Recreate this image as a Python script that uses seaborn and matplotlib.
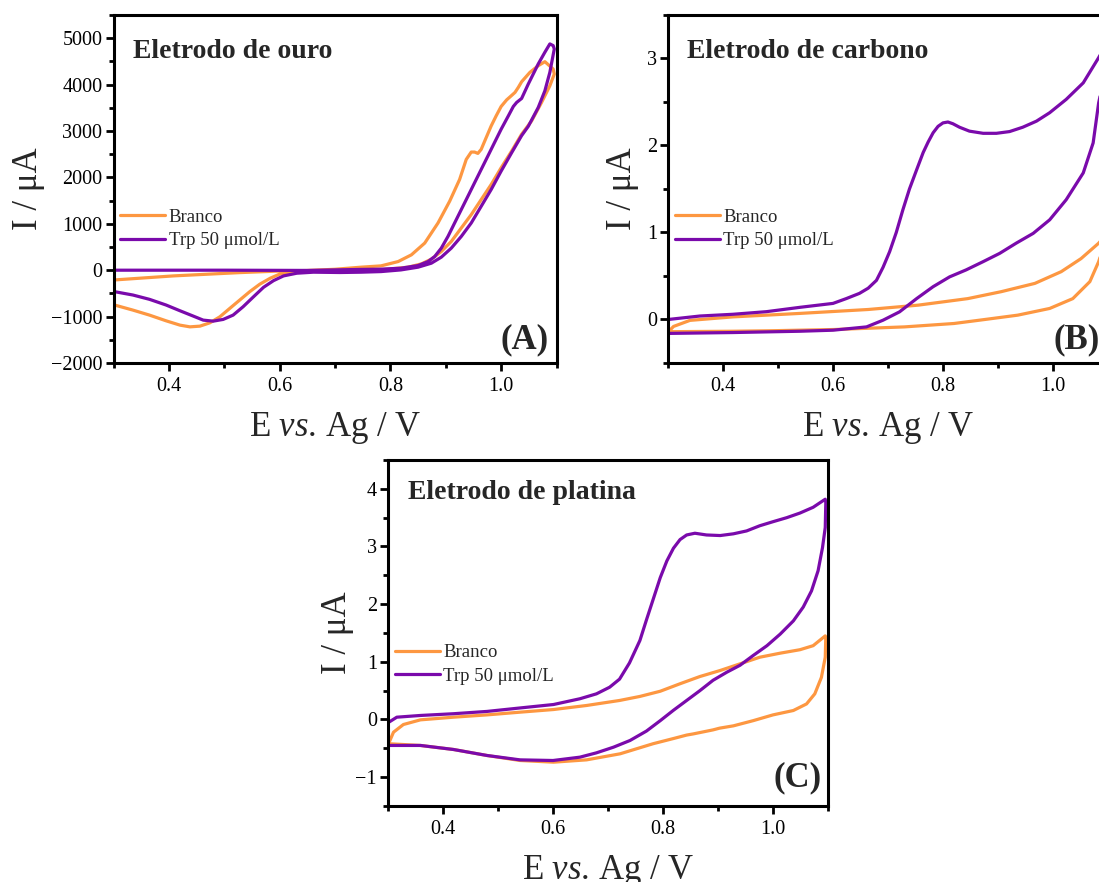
import numpy as np
import pandas as pd
import matplotlib
matplotlib.use("Agg")
import matplotlib.pyplot as plt
from matplotlib.ticker import MultipleLocator, FormatStrFormatter
import seaborn as sns

# ---------------- Cyclic voltammograms (E in V, I in µA) ----------------
# Gold electrode
au_blank_E_fwd = [0.302, 0.408, 0.528, 0.607, 0.649, 0.70, 0.747, 0.783, 0.814, 0.838, 0.862, 0.886,
                  0.907, 0.925, 0.937, 0.946, 0.952, 0.958, 0.964, 0.973, 0.982, 0.991, 1.0, 1.01,
                  1.017, 1.025, 1.031, 1.037, 1.052, 1.067, 1.079, 1.094]
au_blank_I_fwd = [-210, -123, -52, -15, -7, 20, 65, 93, 186, 331, 584, 1017,
                  1485, 1955, 2387, 2546, 2546, 2517, 2604, 2857, 3108, 3325, 3528, 3671,
                  3745, 3831, 3939, 4061, 4264, 4407, 4494, 4335]
au_blank_E_rev = [1.096, 1.088, 1.073, 1.055, 1.037, 1.019, 1.0, 0.982, 0.964, 0.946, 0.928, 0.91,
                  0.892, 0.874, 0.856, 0.832, 0.795, 0.747, 0.70, 0.661, 0.625, 0.601, 0.583, 0.564,
                  0.546, 0.528, 0.51, 0.492, 0.474, 0.456, 0.438, 0.42, 0.395, 0.365, 0.335, 0.302]
au_blank_I_rev = [4227, 3974, 3615, 3216, 2930, 2567, 2207, 1846, 1522, 1197, 909, 619,
                  403, 238, 136, 65, 22, -20, -30, -20, -30, -80, -173, -303,
                  -463, -643, -823, -1005, -1134, -1206, -1221, -1184, -1091, -968, -860, -751]

au_trp_E_fwd = [0.302, 0.5, 0.65, 0.747, 0.783, 0.819, 0.85, 0.868, 0.88, 0.892, 0.904, 0.916,
                0.928, 0.94, 0.952, 0.964, 0.976, 0.988, 1.0, 1.013, 1.022, 1.028, 1.037, 1.049,
                1.067, 1.079, 1.088, 1.094]
au_trp_I_fwd = [0, 0, -5, 17, 22, 43, 100, 186, 294, 476, 727, 1017,
                1305, 1593, 1883, 2171, 2459, 2749, 3037, 3325, 3528, 3615, 3701, 4011,
                4444, 4697, 4877, 4840]
au_trp_E_rev = [1.096, 1.088, 1.079, 1.067, 1.049, 1.037, 1.019, 1.0, 0.982, 0.964, 0.946, 0.928,
                0.91, 0.892, 0.874, 0.85, 0.819, 0.783, 0.747, 0.709, 0.661, 0.631, 0.607, 0.589,
                0.571, 0.553, 0.534, 0.516, 0.498, 0.48, 0.462, 0.444, 0.42, 0.395, 0.365, 0.335, 0.302]
au_trp_I_rev = [4768, 4264, 3866, 3506, 3100, 2900, 2532, 2135, 1738, 1377, 1017, 727,
                476, 281, 151, 65, 6, -30, -43, -50, -43, -65, -123, -225,
                -368, -571, -788, -968, -1061, -1098, -1076, -989, -874, -751, -628, -535, -463]

# Carbon electrode
c_blank_E_fwd = [0.303, 0.31, 0.34, 0.418, 0.54, 0.664, 0.755, 0.845, 0.906, 0.967, 1.015, 1.051, 1.083, 1.1]
c_blank_I_fwd = [-0.127, -0.08, -0.01, 0.03, 0.07, 0.115, 0.165, 0.24, 0.32, 0.415, 0.55, 0.70, 0.877, 1.0]
c_blank_E_rev = [1.1, 1.083, 1.067, 1.036, 0.994, 0.936, 0.876, 0.82, 0.73, 0.603, 0.482, 0.418, 0.303]
c_blank_I_rev = [1.0, 0.665, 0.435, 0.24, 0.127, 0.05, 0.0, -0.046, -0.085, -0.115, -0.13, -0.135, -0.14]

c_trp_E_fwd = [0.3, 0.358, 0.418, 0.479, 0.54, 0.6, 0.624, 0.648, 0.664, 0.679, 0.691, 0.703,
               0.715, 0.727, 0.739, 0.752, 0.764, 0.773, 0.782, 0.791, 0.8, 0.809, 0.818, 0.83,
               0.848, 0.873, 0.897, 0.921, 0.945, 0.97, 0.994, 1.024, 1.055, 1.083, 1.1]
c_trp_I_fwd = [0.0, 0.04, 0.06, 0.09, 0.14, 0.185, 0.24, 0.30, 0.36, 0.45, 0.60, 0.78,
               1.00, 1.26, 1.50, 1.72, 1.92, 2.04, 2.146, 2.22, 2.26, 2.27, 2.25, 2.21,
               2.165, 2.14, 2.14, 2.16, 2.21, 2.28, 2.377, 2.53, 2.72, 3.01, 3.2]
c_trp_E_rev = [1.1, 1.083, 1.073, 1.055, 1.024, 0.994, 0.964, 0.933, 0.903, 0.873, 0.842, 0.812,
               0.782, 0.752, 0.721, 0.691, 0.661, 0.6, 0.54, 0.418, 0.3]
c_trp_I_rev = [3.0, 2.49, 2.03, 1.685, 1.377, 1.146, 0.99, 0.877, 0.76, 0.665, 0.57, 0.49,
               0.377, 0.24, 0.088, -0.008, -0.085, -0.123, -0.135, -0.15, -0.16]

# Platinum electrode
pt_blank_E_fwd = [0.301, 0.31, 0.328, 0.359, 0.419, 0.48, 0.54, 0.601, 0.661, 0.721, 0.758, 0.795,
                  0.831, 0.867, 0.904, 0.94, 0.976, 1.013, 1.049, 1.073, 1.095]
pt_blank_I_fwd = [-0.42, -0.22, -0.087, -0.006, 0.04, 0.08, 0.127, 0.173, 0.243, 0.33, 0.40, 0.49,
                  0.62, 0.745, 0.85, 0.965, 1.08, 1.15, 1.21, 1.28, 1.45]
pt_blank_E_rev = [1.096, 1.095, 1.088, 1.076, 1.061, 1.037, 1.0, 0.964, 0.928, 0.903, 0.891, 0.855,
                  0.843, 0.819, 0.782, 0.722, 0.661, 0.601, 0.54, 0.48, 0.419, 0.359, 0.301]
pt_blank_I_rev = [1.43, 1.08, 0.73, 0.445, 0.27, 0.156, 0.08, -0.02, -0.11, -0.15, -0.18, -0.25,
                  -0.27, -0.33, -0.42, -0.595, -0.7, -0.74, -0.711, -0.624, -0.52, -0.45, -0.42]

pt_trp_E_fwd = [0.301, 0.316, 0.359, 0.419, 0.48, 0.54, 0.601, 0.649, 0.679, 0.703, 0.721, 0.739,
                0.758, 0.770, 0.782, 0.795, 0.807, 0.819, 0.831, 0.843, 0.858, 0.879, 0.904, 0.928,
                0.952, 0.976, 1.0, 1.025, 1.049, 1.073, 1.095]
pt_trp_I_fwd = [-0.05, 0.04, 0.07, 0.1, 0.14, 0.2, 0.26, 0.36, 0.445, 0.56, 0.70, 0.98,
                1.37, 1.73, 2.08, 2.46, 2.75, 2.97, 3.12, 3.20, 3.23, 3.20, 3.19, 3.22,
                3.27, 3.36, 3.43, 3.50, 3.58, 3.68, 3.82]
pt_trp_E_rev = [1.096, 1.095, 1.09, 1.082, 1.07, 1.055, 1.037, 1.013, 0.989, 0.964, 0.94, 0.916,
                0.891, 0.867, 0.843, 0.819, 0.795, 0.770, 0.74, 0.71, 0.679, 0.649, 0.6, 0.54,
                0.48, 0.419, 0.359, 0.301]
pt_trp_I_rev = [3.76, 3.33, 2.98, 2.58, 2.23, 1.95, 1.71, 1.48, 1.28, 1.11, 0.94, 0.82,
                0.68, 0.50, 0.33, 0.16, -0.02, -0.20, -0.364, -0.48, -0.578, -0.653, -0.711, -0.70,
                -0.624, -0.52, -0.45, -0.45]

series_labels = ["Branco", "Trp 50 \u03bcmol/L"]
series_colors = ["#FD9741", "#7A0AAB"]

panels = [
    dict(title="Eletrodo de ouro", tag="(A)",
         blank=(au_blank_E_fwd, au_blank_I_fwd, au_blank_E_rev, au_blank_I_rev),
         trp=(au_trp_E_fwd, au_trp_I_fwd, au_trp_E_rev, au_trp_I_rev),
         ylim=(-2000, 5500), ymajor=1000, yminor=500,
         rect=[0.10328, 0.58844, 0.40309, 0.39456],
         ylab_x=-0.155, title_xy=(0.045, 0.894), tag_xy=(0.983, 0.066), leg_y=0.385),
    dict(title="Eletrodo de carbono", tag="(B)",
         blank=(c_blank_E_fwd, c_blank_I_fwd, c_blank_E_rev, c_blank_I_rev),
         trp=(c_trp_E_fwd, c_trp_I_fwd, c_trp_E_rev, c_trp_I_rev),
         ylim=(-0.5, 3.5), ymajor=1, yminor=0.5,
         rect=[0.60783, 0.58844, 0.40036, 0.39456],
         ylab_x=-0.066, title_xy=(0.043, 0.894), tag_xy=(0.982, 0.066), leg_y=0.385),
    dict(title="Eletrodo de platina", tag="(C)",
         blank=(pt_blank_E_fwd, pt_blank_I_fwd, pt_blank_E_rev, pt_blank_I_rev),
         trp=(pt_trp_E_fwd, pt_trp_I_fwd, pt_trp_E_rev, pt_trp_I_rev),
         ylim=(-1.5, 4.5), ymajor=1, yminor=0.5,
         rect=[0.35305, 0.08617, 0.40036, 0.39229],
         ylab_x=-0.077, title_xy=(0.045, 0.907), tag_xy=(0.986, 0.081), leg_y=0.409),
]

sns.set_style("ticks")
plt.rcParams["font.family"] = ["Liberation Serif", "DejaVu Serif"]
plt.rcParams["mathtext.fontset"] = "custom"
plt.rcParams["mathtext.rm"] = "Liberation Serif"
plt.rcParams["mathtext.it"] = "Liberation Serif:italic"

fig = plt.figure(figsize=(10.99, 8.82), dpi=100)

for p in panels:
    ax = fig.add_axes(p["rect"])
    frames = []
    for lab, (ef, i_f, er, i_r) in zip(series_labels, [p["blank"], p["trp"]]):
        E = list(ef) + list(er)
        I = list(i_f) + list(i_r)
        frames.append(pd.DataFrame({"E": E, "I": I, "serie": lab}))
    df = pd.concat(frames, ignore_index=True)
    sns.lineplot(data=df, x="E", y="I", hue="serie", units="serie", palette=series_colors,
                 hue_order=series_labels, sort=False, estimator=None, lw=2.3, ax=ax)
    for ln in ax.lines:
        ln.set_solid_joinstyle("round")
        ln.set_solid_capstyle("round")

    ax.set_xlim(0.3, 1.1)
    ax.set_ylim(*p["ylim"])
    ax.xaxis.set_major_locator(MultipleLocator(0.2))
    ax.xaxis.set_minor_locator(MultipleLocator(0.1))
    ax.xaxis.set_major_formatter(FormatStrFormatter("%.1f"))
    ax.yaxis.set_major_locator(MultipleLocator(p["ymajor"]))
    ax.yaxis.set_minor_locator(MultipleLocator(p["yminor"]))
    ax.tick_params(which="both", direction="out", width=2, labelsize=14.5, color="black",
                   labelcolor="black")
    ax.tick_params(which="major", length=6)
    ax.tick_params(which="minor", length=3.5)
    ax.tick_params(axis="y", pad=2)
    ax.tick_params(axis="x", pad=4)
    for s in ax.spines.values():
        s.set_linewidth(2.2)
        s.set_color("black")
        s.set_visible(True)

    ax.set_ylabel("I / \u03bcA", fontsize=25)
    ax.set_xlabel(r"$\mathrm{E}\ \mathit{vs.}\!\mathrm{\ Ag\ /\ V}$", fontsize=25)
    ax.yaxis.set_label_coords(p["ylab_x"], 0.5)
    ax.xaxis.set_label_coords(0.5, -0.135)

    ax.text(p["title_xy"][0], p["title_xy"][1], p["title"], transform=ax.transAxes, fontsize=20,
            fontweight="bold", ha="left", va="center")
    ax.text(p["tag_xy"][0], p["tag_xy"][1], p["tag"], transform=ax.transAxes, fontsize=25,
            fontweight="bold", ha="right", va="center")

    ax.legend(loc="center left", bbox_to_anchor=(0.0, p["leg_y"]), frameon=False,
              fontsize=13.5, handlelength=2.4, handletextpad=0.2, labelspacing=0.35,
              borderaxespad=0, borderpad=0.35)

fig.savefig("out.png", dpi=100)
